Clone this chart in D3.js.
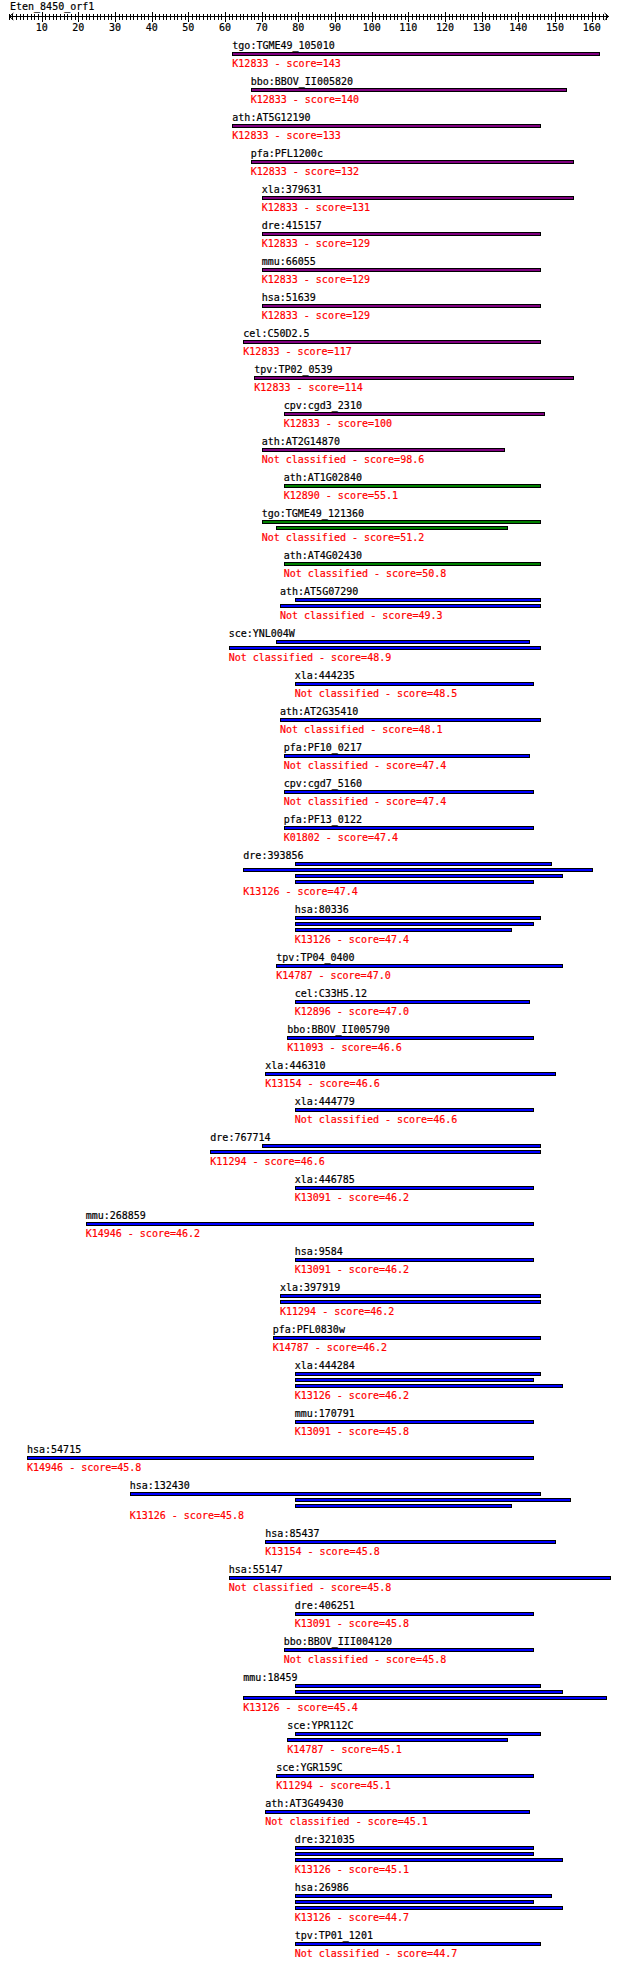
<!DOCTYPE html>
<html>
<head>
<meta charset="utf-8">
<script src="https://cdn.jsdelivr.net/npm/d3@7.9.0/dist/d3.min.js"></script>
<style>
  body { margin: 0; background: #fff; }
  svg text { font-family: "DejaVu Sans Mono", monospace; font-size: 10px; stroke-width: 0.2px; }
</style>
</head>
<body>
<svg id="chart" width="620" height="1967"></svg>
<script>
const queryName = 'Eten_8450_orf1';
const queryLength = 165;
const tickLabels = [10, 20, 30, 40, 50, 60, 70, 80, 90, 100, 110, 120, 130, 140, 150, 160];

const genes = [
  'tgo:TGME49_105010', 'bbo:BBOV_II005820', 'ath:AT5G12190', 'pfa:PFL1200c', 'xla:379631',
  'dre:415157', 'mmu:66055', 'hsa:51639', 'cel:C50D2.5', 'tpv:TP02_0539',
  'cpv:cgd3_2310', 'ath:AT2G14870', 'ath:AT1G02840', 'tgo:TGME49_121360', 'ath:AT4G02430',
  'ath:AT5G07290', 'sce:YNL004W', 'xla:444235', 'ath:AT2G35410', 'pfa:PF10_0217',
  'cpv:cgd7_5160', 'pfa:PF13_0122', 'dre:393856', 'hsa:80336', 'tpv:TP04_0400',
  'cel:C33H5.12', 'bbo:BBOV_II005790', 'xla:446310', 'xla:444779', 'dre:767714',
  'xla:446785', 'mmu:268859', 'hsa:9584', 'xla:397919', 'pfa:PFL0830w',
  'xla:444284', 'mmu:170791', 'hsa:54715', 'hsa:132430', 'hsa:85437',
  'hsa:55147', 'dre:406251', 'bbo:BBOV_III004120', 'mmu:18459', 'sce:YPR112C',
  'sce:YGR159C', 'ath:AT3G49430', 'dre:321035', 'hsa:26986', 'tpv:TP01_1201'
];

const koIds = [
  'K12833', 'K12833', 'K12833', 'K12833', 'K12833',
  'K12833', 'K12833', 'K12833', 'K12833', 'K12833',
  'K12833', 'Not classified', 'K12890', 'Not classified', 'Not classified',
  'Not classified', 'Not classified', 'Not classified', 'Not classified', 'Not classified',
  'Not classified', 'K01802', 'K13126', 'K13126', 'K14787',
  'K12896', 'K11093', 'K13154', 'Not classified', 'K11294',
  'K13091', 'K14946', 'K13091', 'K11294', 'K14787',
  'K13126', 'K13091', 'K14946', 'K13126', 'K13154',
  'Not classified', 'K13091', 'Not classified', 'K13126', 'K14787',
  'K11294', 'Not classified', 'K13126', 'K13126', 'Not classified'
];

const scores = [
  143, 140, 133, 132, 131, 129, 129, 129, 117, 114,
  100, 98.6, 55.1, 51.2, 50.8, 49.3, 48.9, 48.5, 48.1, 47.4,
  47.4, 47.4, 47.4, 47.4, 47.0, 47.0, 46.6, 46.6, 46.6, 46.6,
  46.2, 46.2, 46.2, 46.2, 46.2, 46.2, 45.8, 45.8, 45.8, 45.8,
  45.8, 45.8, 45.8, 45.4, 45.1, 45.1, 45.1, 45.1, 44.7, 44.7
];

// 0 = purple, 1 = green, 2 = blue
const groups = [
  0, 0, 0, 0, 0, 0, 0, 0, 0, 0,
  0, 0, 1, 1, 1, 2, 2, 2, 2, 2,
  2, 2, 2, 2, 2, 2, 2, 2, 2, 2,
  2, 2, 2, 2, 2, 2, 2, 2, 2, 2,
  2, 2, 2, 2, 2, 2, 2, 2, 2, 2
];

const hitStarts = [
  [62], [67], [62], [67], [70],
  [70], [70], [70], [65], [68],
  [76], [70], [76], [70, 74], [76],
  [79, 75], [74, 61], [79], [75], [76],
  [76], [76], [79, 65, 79, 79], [79, 79, 79], [74],
  [79], [77], [71], [79], [70, 56],
  [79], [22], [79], [75, 75], [73],
  [79, 79, 79], [79], [6], [34, 79, 79], [71],
  [61], [79], [76], [79, 79, 65], [79, 77],
  [74], [71], [79, 79, 79], [79, 79, 79], [79]
];

const hitEnds = [
  [162], [153], [146], [155], [155],
  [146], [146], [146], [146], [155],
  [147], [136], [146], [146, 137], [146],
  [146, 146], [143, 146], [144], [146], [143],
  [144], [144], [149, 160, 152, 144], [146, 144, 138], [152],
  [143], [144], [150], [144], [146, 146],
  [144], [144], [144], [146, 146], [146],
  [146, 144, 152], [144], [144], [146, 154, 138], [150],
  [165], [144], [144], [146, 152, 164], [146, 137],
  [144], [143], [144, 144, 152], [149, 144, 152], [146]
];

const groupColors = ['#800080', '#008000', '#0000ff'];

const svg = d3.select('#chart');
const x = d3.scaleLinear().domain([0, queryLength]).range([5, 610]);

// title
svg.append('text')
  .attr('x', 10)
  .attr('y', 10)
  .attr('fill', '#000')
  .attr('stroke', '#000')
  .text(queryName);

// ruler
const axisY = 16;
const ruler = svg.append('g').attr('shape-rendering', 'crispEdges');
ruler.append('line')
  .attr('x1', x(1.2)).attr('x2', x(164.6))
  .attr('y1', axisY + 0.5).attr('y2', axisY + 0.5)
  .attr('stroke', '#000');

const minor = d3.range(1, queryLength);
ruler.selectAll('line.minor')
  .data(minor.filter(d => d % 10 !== 0))
  .join('line')
  .attr('class', 'minor')
  .attr('x1', d => Math.round(x(d)) + 0.5)
  .attr('x2', d => Math.round(x(d)) + 0.5)
  .attr('y1', axisY - 2)
  .attr('y2', axisY + 4)
  .attr('stroke', '#000');

ruler.selectAll('line.major')
  .data(tickLabels)
  .join('line')
  .attr('class', 'major')
  .attr('x1', d => Math.round(x(d)) + 0.5)
  .attr('x2', d => Math.round(x(d)) + 0.5)
  .attr('y1', axisY - 4)
  .attr('y2', axisY + 6)
  .attr('stroke', '#000');

ruler.selectAll('text')
  .data(tickLabels)
  .join('text')
  .attr('x', d => x(d))
  .attr('y', axisY + 15)
  .attr('text-anchor', 'middle')
  .attr('fill', '#000')
  .attr('stroke', '#000')
  .text(d => d);

// arrow heads
const lx = x(1.2), rx = x(164.6);
ruler.append('path')
  .attr('d', `M${lx + 4},${axisY - 3} L${lx},${axisY + 0.5} L${lx + 4},${axisY + 4}`)
  .attr('fill', 'none').attr('stroke', '#000').attr('shape-rendering', 'auto');
ruler.append('path')
  .attr('d', `M${rx - 4},${axisY - 3} L${rx},${axisY + 0.5} L${rx - 4},${axisY + 4}`)
  .attr('fill', 'none').attr('stroke', '#000').attr('shape-rendering', 'auto');

// hits
const fmtScore = s => s >= 100 ? d3.format('d')(s) : d3.format('.1f')(s);
let rowY = 49;

genes.forEach((gene, i) => {
  const starts = hitStarts[i];
  const ends = hitEnds[i];
  const n = starts.length;
  const left = x(d3.min(starts));
  const g = svg.append('g');

  g.append('text')
    .attr('x', left)
    .attr('y', rowY)
    .attr('fill', '#000')
    .attr('stroke', '#000')
    .text(gene);

  starts.forEach((s, j) => {
    g.append('rect')
      .attr('x', Math.round(x(s)) + 0.5)
      .attr('y', rowY + 3.5 + j * 6)
      .attr('width', Math.round(x(ends[j])) - Math.round(x(s)))
      .attr('height', 3)
      .attr('fill', groupColors[groups[i]])
      .attr('stroke', '#000')
      .attr('stroke-width', 1)
      .attr('shape-rendering', 'crispEdges');
  });

  g.append('text')
    .attr('x', left)
    .attr('y', rowY + 18 + (n - 1) * 6)
    .attr('fill', '#ff0000')
    .attr('stroke', '#ff0000')
    .text(`${koIds[i]} - score=${fmtScore(scores[i])}`);

  rowY += 30 + n * 6;
});
</script>
</body>
</html>
